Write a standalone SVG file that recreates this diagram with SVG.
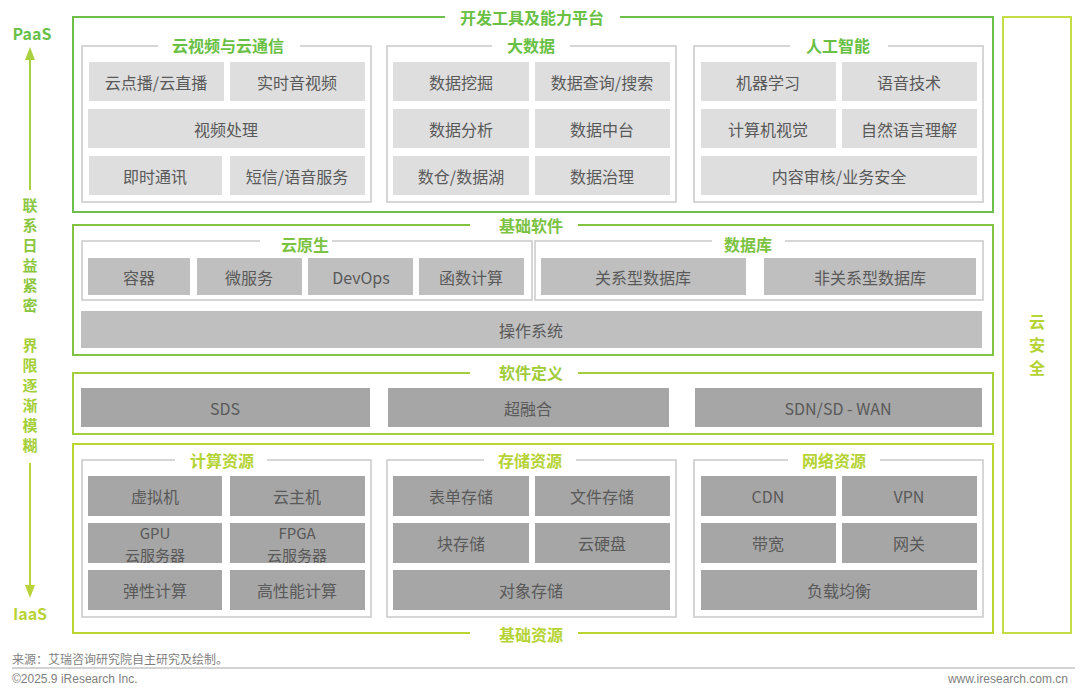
<svg xmlns="http://www.w3.org/2000/svg" width="1080" height="695" viewBox="0 0 1080 695">
<style>
.t{font-family:"Noto Sans CJK SC","Noto Sans",sans-serif;text-anchor:middle;dominant-baseline:central}
.v{font-family:"Noto Sans CJK SC","Noto Sans",sans-serif;font-weight:bold;writing-mode:vertical-rl;text-anchor:start}
.lab{font-size:16px;fill:#595959}
.lab2{font-size:15px;fill:#595959}
.h{font-size:16px;font-weight:bold}
.sub{fill:#fff;stroke:#c9c9c9;stroke-width:1.5}
.b1{fill:#dedede}
.b2{fill:#bfbfbf}
.b3{fill:#a6a6a6}
.gap{fill:#fff}
.ft{font-family:"Liberation Sans",Arial,sans-serif;font-size:12px;fill:#7f7f7f}
</style>
<rect width="1080" height="695" fill="#fff"/>

<g id="left-axis">
  <text class="t" x="32" y="33" font-size="16" font-weight="bold" fill="#6abf4b" font-family="Noto Sans,sans-serif">PaaS</text>
  <line x1="30" y1="58" x2="30" y2="190" stroke="#a8d040" stroke-width="2"/>
  <polygon points="30,47 25,60 35,60" fill="#a8d040"/>
  <text class="v" x="30" y="197.5" font-size="15" letter-spacing="5" fill="#8cc63f">联系日益紧密</text>
  <text class="v" x="30" y="337.5" font-size="15" letter-spacing="5" fill="#a5cf38">界限逐渐模糊</text>
  <line x1="30" y1="463" x2="30" y2="586" stroke="#b8d438" stroke-width="2"/>
  <polygon points="30,598 25,585 35,585" fill="#b8d438"/>
  <text class="t" x="30" y="613" font-size="16" font-weight="bold" fill="#b8d438" font-family="Noto Sans,sans-serif">IaaS</text>
</g>

<g id="cloud-security">
  <rect x="1003" y="17" width="68" height="616" fill="#fff" stroke="#c5dd44" stroke-width="2"/>
  <text class="v" x="1037" y="314" font-size="16" letter-spacing="7" fill="#b5d334">云安全</text>
</g>

<g id="dev-platform">
  <rect x="73" y="17" width="920" height="195" fill="#fff" stroke="#6dbf4b" stroke-width="2"/>
  <rect class="gap" x="445" y="8" width="175" height="18"/>
  <text class="t h" x="532" y="17" fill="#6abf45">开发工具及能力平台</text>

  <g id="cloud-video">
    <rect class="sub" x="82" y="46" width="289" height="156"/>
    <rect class="gap" x="158" y="37" width="142" height="18"/>
    <text class="t h" x="228" y="45" fill="#6abf45">云视频与云通信</text>
    <rect class="b1" x="89" y="62" width="135" height="39"/><text class="t lab" x="156" y="82">云点播/云直播</text>
    <rect class="b1" x="230" y="62" width="135" height="39"/><text class="t lab" x="297" y="82">实时音视频</text>
    <rect class="b1" x="88" y="109" width="277" height="39"/><text class="t lab" x="226" y="129">视频处理</text>
    <rect class="b1" x="89" y="156" width="133" height="39"/><text class="t lab" x="155" y="176">即时通讯</text>
    <rect class="b1" x="230" y="156" width="135" height="39"/><text class="t lab" x="297" y="176">短信/语音服务</text>
  </g>
  <g id="big-data">
    <rect class="sub" x="387" y="46" width="289" height="156"/>
    <rect class="gap" x="492" y="37" width="78" height="18"/>
    <text class="t h" x="531" y="45" fill="#6abf45">大数据</text>
    <rect class="b1" x="393" y="62" width="136" height="39"/><text class="t lab" x="461" y="82">数据挖掘</text>
    <rect class="b1" x="535" y="62" width="135" height="39"/><text class="t lab" x="602" y="82">数据查询/搜索</text>
    <rect class="b1" x="393" y="109" width="136" height="39"/><text class="t lab" x="461" y="129">数据分析</text>
    <rect class="b1" x="535" y="109" width="135" height="39"/><text class="t lab" x="602" y="129">数据中台</text>
    <rect class="b1" x="393" y="156" width="136" height="39"/><text class="t lab" x="461" y="176">数仓/数据湖</text>
    <rect class="b1" x="535" y="156" width="135" height="39"/><text class="t lab" x="602" y="176">数据治理</text>
  </g>
  <g id="ai">
    <rect class="sub" x="694" y="46" width="289" height="156"/>
    <rect class="gap" x="790" y="37" width="98" height="18"/>
    <text class="t h" x="838" y="45" fill="#6abf45">人工智能</text>
    <rect class="b1" x="701" y="62" width="135" height="39"/><text class="t lab" x="768" y="82">机器学习</text>
    <rect class="b1" x="842" y="62" width="135" height="39"/><text class="t lab" x="909" y="82">语音技术</text>
    <rect class="b1" x="701" y="109" width="135" height="39"/><text class="t lab" x="768" y="129">计算机视觉</text>
    <rect class="b1" x="842" y="109" width="135" height="39"/><text class="t lab" x="909" y="129">自然语言理解</text>
    <rect class="b1" x="701" y="156" width="276" height="39"/><text class="t lab" x="839" y="176">内容审核/业务安全</text>
  </g>
</g>

<g id="base-software">
  <rect x="73" y="225" width="920" height="130" fill="#fff" stroke="#82c341" stroke-width="2"/>
  <rect class="gap" x="470" y="216" width="108" height="18"/>
  <text class="t h" x="531" y="225" fill="#7cc242">基础软件</text>
  <g id="cloud-native">
    <rect class="sub" x="82" y="241" width="450" height="59"/>
    <rect class="gap" x="260" y="234" width="72" height="16"/>
    <text class="t h" x="305" y="244" fill="#7cc242">云原生</text>
    <rect class="b2" x="88" y="258" width="102" height="37"/><text class="t lab" x="139" y="277">容器</text>
    <rect class="b2" x="197" y="258" width="105" height="37"/><text class="t lab" x="249" y="277">微服务</text>
    <rect class="b2" x="308" y="258" width="105" height="37"/><text class="t lab" x="361" y="277">DevOps</text>
    <rect class="b2" x="419" y="258" width="105" height="37"/><text class="t lab" x="471" y="277">函数计算</text>
  </g>
  <g id="database">
    <rect class="sub" x="535" y="241" width="448" height="59"/>
    <rect class="gap" x="712" y="234" width="73" height="16"/>
    <text class="t h" x="748" y="244" fill="#7cc242">数据库</text>
    <rect class="b2" x="541" y="258" width="205" height="37"/><text class="t lab" x="643" y="277">关系型数据库</text>
    <rect class="b2" x="764" y="258" width="212" height="37"/><text class="t lab" x="870" y="277">非关系型数据库</text>
  </g>
  <g id="os">
    <rect class="b2" x="81" y="311" width="901" height="37"/><text class="t lab" x="531" y="330">操作系统</text>
  </g>
</g>

<g id="software-defined">
  <rect x="73" y="373" width="920" height="61" fill="#fff" stroke="#a5cf3a" stroke-width="2"/>
  <rect class="gap" x="470" y="364" width="108" height="18"/>
  <text class="t h" x="531" y="372" fill="#a0cc3a">软件定义</text>
  <rect class="b3" x="81" y="388" width="289" height="39"/><text class="t lab" x="225" y="408">SDS</text>
  <rect class="b3" x="388" y="388" width="281" height="39"/><text class="t lab" x="528" y="408">超融合</text>
  <rect class="b3" x="695" y="388" width="287" height="39"/><text class="t lab" x="838" y="408">SDN/SD - WAN</text>
</g>

<g id="base-resources">
  <rect x="73" y="444" width="920" height="189" fill="#fff" stroke="#bcd631" stroke-width="2"/>
  <rect class="gap" x="470" y="625" width="108" height="18"/>
  <text class="t h" x="531" y="634" fill="#b5d334">基础资源</text>
  <g id="compute">
    <rect class="sub" x="82" y="460" width="289" height="157"/>
    <rect class="gap" x="175" y="451" width="92" height="18"/>
    <text class="t h" x="222" y="460" fill="#b5d334">计算资源</text>
    <rect class="b3" x="88" y="476" width="134" height="40"/><text class="t lab" x="155" y="496">虚拟机</text>
    <rect class="b3" x="230" y="476" width="135" height="40"/><text class="t lab" x="297" y="496">云主机</text>
    <rect class="b3" x="88" y="523" width="134" height="40"/><text class="t lab2" x="155" y="532">GPU</text><text class="t lab2" x="155" y="554">云服务器</text>
    <rect class="b3" x="230" y="523" width="135" height="40"/><text class="t lab2" x="297" y="532">FPGA</text><text class="t lab2" x="297" y="554">云服务器</text>
    <rect class="b3" x="88" y="570" width="134" height="40"/><text class="t lab" x="155" y="590">弹性计算</text>
    <rect class="b3" x="230" y="570" width="135" height="40"/><text class="t lab" x="297" y="590">高性能计算</text>
  </g>
  <g id="storage">
    <rect class="sub" x="387" y="460" width="289" height="157"/>
    <rect class="gap" x="484" y="451" width="92" height="18"/>
    <text class="t h" x="530" y="460" fill="#b5d334">存储资源</text>
    <rect class="b3" x="393" y="476" width="136" height="40"/><text class="t lab" x="461" y="496">表单存储</text>
    <rect class="b3" x="535" y="476" width="135" height="40"/><text class="t lab" x="602" y="496">文件存储</text>
    <rect class="b3" x="393" y="523" width="136" height="40"/><text class="t lab" x="461" y="543">块存储</text>
    <rect class="b3" x="535" y="523" width="135" height="40"/><text class="t lab" x="602" y="543">云硬盘</text>
    <rect class="b3" x="393" y="570" width="277" height="40"/><text class="t lab" x="531" y="590">对象存储</text>
  </g>
  <g id="network">
    <rect class="sub" x="694" y="460" width="289" height="157"/>
    <rect class="gap" x="788" y="451" width="92" height="18"/>
    <text class="t h" x="834" y="460" fill="#b5d334">网络资源</text>
    <rect class="b3" x="701" y="476" width="135" height="40"/><text class="t lab" x="768" y="496">CDN</text>
    <rect class="b3" x="842" y="476" width="135" height="40"/><text class="t lab" x="909" y="496">VPN</text>
    <rect class="b3" x="701" y="523" width="135" height="40"/><text class="t lab" x="768" y="543">带宽</text>
    <rect class="b3" x="842" y="523" width="135" height="40"/><text class="t lab" x="909" y="543">网关</text>
    <rect class="b3" x="701" y="570" width="276" height="40"/><text class="t lab" x="839" y="590">负载均衡</text>
  </g>
</g>

<g id="connectors"></g>

<g id="footer">
  <text x="12" y="664" font-family="Noto Sans CJK SC,sans-serif" font-size="12" fill="#7f7f7f">来源：艾瑞咨询研究院自主研究及绘制。</text>
  <line x1="12" y1="668" x2="1075" y2="668" stroke="#a6a6a6" stroke-width="1"/>
  <text class="ft" x="12" y="683">©2025.9 iResearch Inc.</text>
  <text class="ft" x="1068" y="683" text-anchor="end">www.iresearch.com.cn</text>
</g>
</svg>
